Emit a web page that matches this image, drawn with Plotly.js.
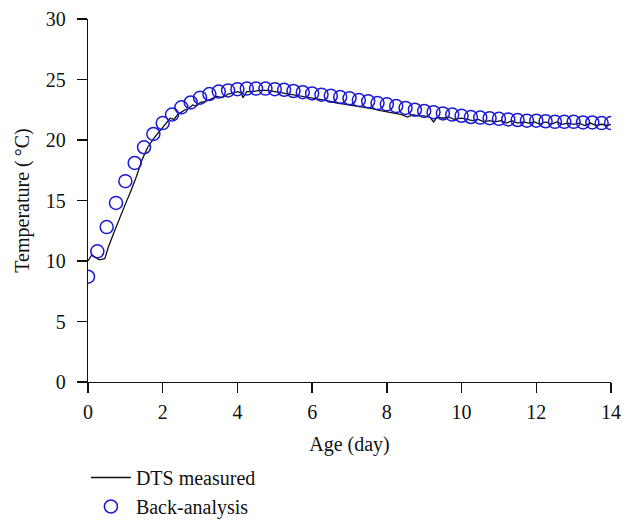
<!DOCTYPE html>
<html>
<head>
<meta charset="utf-8">
<script src="https://cdn.plot.ly/plotly-3.0.1.min.js"></script>
<style>html,body{margin:0;padding:0;background:#fff;}#chart{width:634px;height:524px;}</style>
</head>
<body>
<div id="chart"></div>
<script>
// DTS measured (line)
const dtsDays = [0, 0.1, 0.2, 0.3, 0.45, 0.55, 0.7, 0.85, 1.0, 1.15, 1.3, 1.45, 1.6, 1.75, 1.9, 2.0, 2.1, 2.2, 2.3, 2.4, 2.5, 2.6, 2.7, 2.8, 2.9, 3.0, 3.15, 3.3, 3.45, 3.6, 3.75, 3.9, 4.0, 4.1, 4.15, 4.25, 4.4, 4.6, 4.8, 5.0, 5.2, 5.4, 5.6, 5.8, 6.0, 6.2, 6.4, 6.6, 6.8, 7.0, 7.2, 7.4, 7.6, 7.8, 8.0, 8.2, 8.4, 8.55, 8.7, 8.85, 9.0, 9.15, 9.25, 9.35, 9.5, 9.65, 9.8, 10.0, 10.15, 10.3, 10.45, 10.6, 10.75, 10.9, 11.05, 11.2, 11.35, 11.5, 11.65, 11.8, 11.95, 12.1, 12.25, 12.4, 12.55, 12.7, 12.85, 13.0, 13.15, 13.3, 13.45, 13.6, 13.75, 13.9, 14.0];
const dtsTemp = [10.0, 10.5, 10.3, 10.1, 10.2, 11.2, 12.4, 13.6, 14.7, 15.8, 17.0, 18.4, 19.4, 20.1, 20.7, 21.1, 21.4, 21.8, 21.7, 22.1, 22.3, 22.5, 22.6, 22.9, 22.8, 23.1, 23.2, 23.4, 23.6, 23.5, 23.8, 23.9, 24.0, 23.9, 23.5, 24.0, 24.0, 24.1, 24.1, 24.0, 23.9, 23.8, 23.7, 23.6, 23.5, 23.4, 23.25, 23.1, 23.0, 22.95, 22.8, 22.7, 22.6, 22.45, 22.35, 22.2, 22.1, 21.9, 22.1, 22.0, 22.0, 21.9, 21.5, 21.9, 21.8, 21.9, 21.7, 21.8, 21.7, 21.6, 21.7, 21.5, 21.6, 21.5, 21.6, 21.4, 21.6, 21.4, 21.5, 21.4, 21.5, 21.3, 21.5, 21.3, 21.5, 21.3, 21.4, 21.3, 21.4, 21.2, 21.4, 21.2, 21.3, 21.2, 21.3];

// Back-analysis (markers)
const backDays = [0, 0.25, 0.5, 0.75, 1.0, 1.25, 1.5, 1.75, 2.0, 2.25, 2.5, 2.75, 3.0, 3.25, 3.5, 3.75, 4.0, 4.25, 4.5, 4.75, 5.0, 5.25, 5.5, 5.75, 6.0, 6.25, 6.5, 6.75, 7.0, 7.25, 7.5, 7.75, 8.0, 8.25, 8.5, 8.75, 9.0, 9.25, 9.5, 9.75, 10.0, 10.25, 10.5, 10.75, 11.0, 11.25, 11.5, 11.75, 12.0, 12.25, 12.5, 12.75, 13.0, 13.25, 13.5, 13.75, 14.0];
const backTemp = [8.7, 10.8, 12.8, 14.8, 16.6, 18.1, 19.4, 20.5, 21.4, 22.1, 22.7, 23.1, 23.5, 23.8, 24.0, 24.1, 24.2, 24.25, 24.25, 24.25, 24.2, 24.15, 24.05, 23.95, 23.85, 23.75, 23.65, 23.55, 23.45, 23.3, 23.2, 23.05, 22.95, 22.8, 22.65, 22.5, 22.4, 22.3, 22.2, 22.1, 22.0, 21.9, 21.85, 21.8, 21.75, 21.7, 21.65, 21.6, 21.6, 21.55, 21.5, 21.5, 21.5, 21.45, 21.45, 21.4, 21.4];

const xTicks = [0, 2, 4, 6, 8, 10, 12, 14];
const yTicks = [0, 5, 10, 15, 20, 25, 30];

const font = {family: '"Liberation Serif", "Times New Roman", serif', size: 20, color: '#111'};

const traces = [
  {x: dtsDays, y: dtsTemp, mode: 'lines', name: 'DTS measured',
   line: {color: '#111', width: 1.3}},
  {x: backDays, y: backTemp, mode: 'markers', name: 'Back-analysis',
   marker: {symbol: 'circle-open', size: 13, color: '#1a1ad6', line: {width: 1.5, color: '#1a1ad6'}}}
];

const layout = {
  width: 634, height: 524,
  margin: {l: 88, r: 23, t: 19, b: 142},
  paper_bgcolor: '#fff', plot_bgcolor: '#fff',
  font: font,
  showlegend: true,
  legend: {x: -0.004, xref: 'paper', xanchor: 'left',
           y: 1 - 458 / 524, yref: 'container', yanchor: 'top', orientation: 'v',
           font: font, bgcolor: 'rgba(0,0,0,0)', tracegroupgap: 0, itemwidth: 40},
  xaxis: {range: [0, 14], tickvals: xTicks, ticks: 'outside', ticklen: 10, tickwidth: 1.3,
          tickcolor: '#111', showline: true, linecolor: '#111', linewidth: 1.3,
          showgrid: false, zeroline: false, tickfont: font, ticklabelstandoff: 2,
          title: {text: 'Age (day)', font: font, standoff: 14}},
  yaxis: {range: [0, 30], tickvals: yTicks, ticks: 'outside', ticklen: 10, tickwidth: 1.3,
          tickcolor: '#111', showline: true, linecolor: '#111', linewidth: 1.3,
          showgrid: false, zeroline: false, tickfont: font, ticklabelstandoff: 7,
          title: {text: 'Temperature (\u2009°C)', font: font, standoff: 10}}
};

Plotly.newPlot('chart', traces, layout, {displayModeBar: false, staticPlot: true});
</script>
</body>
</html>
